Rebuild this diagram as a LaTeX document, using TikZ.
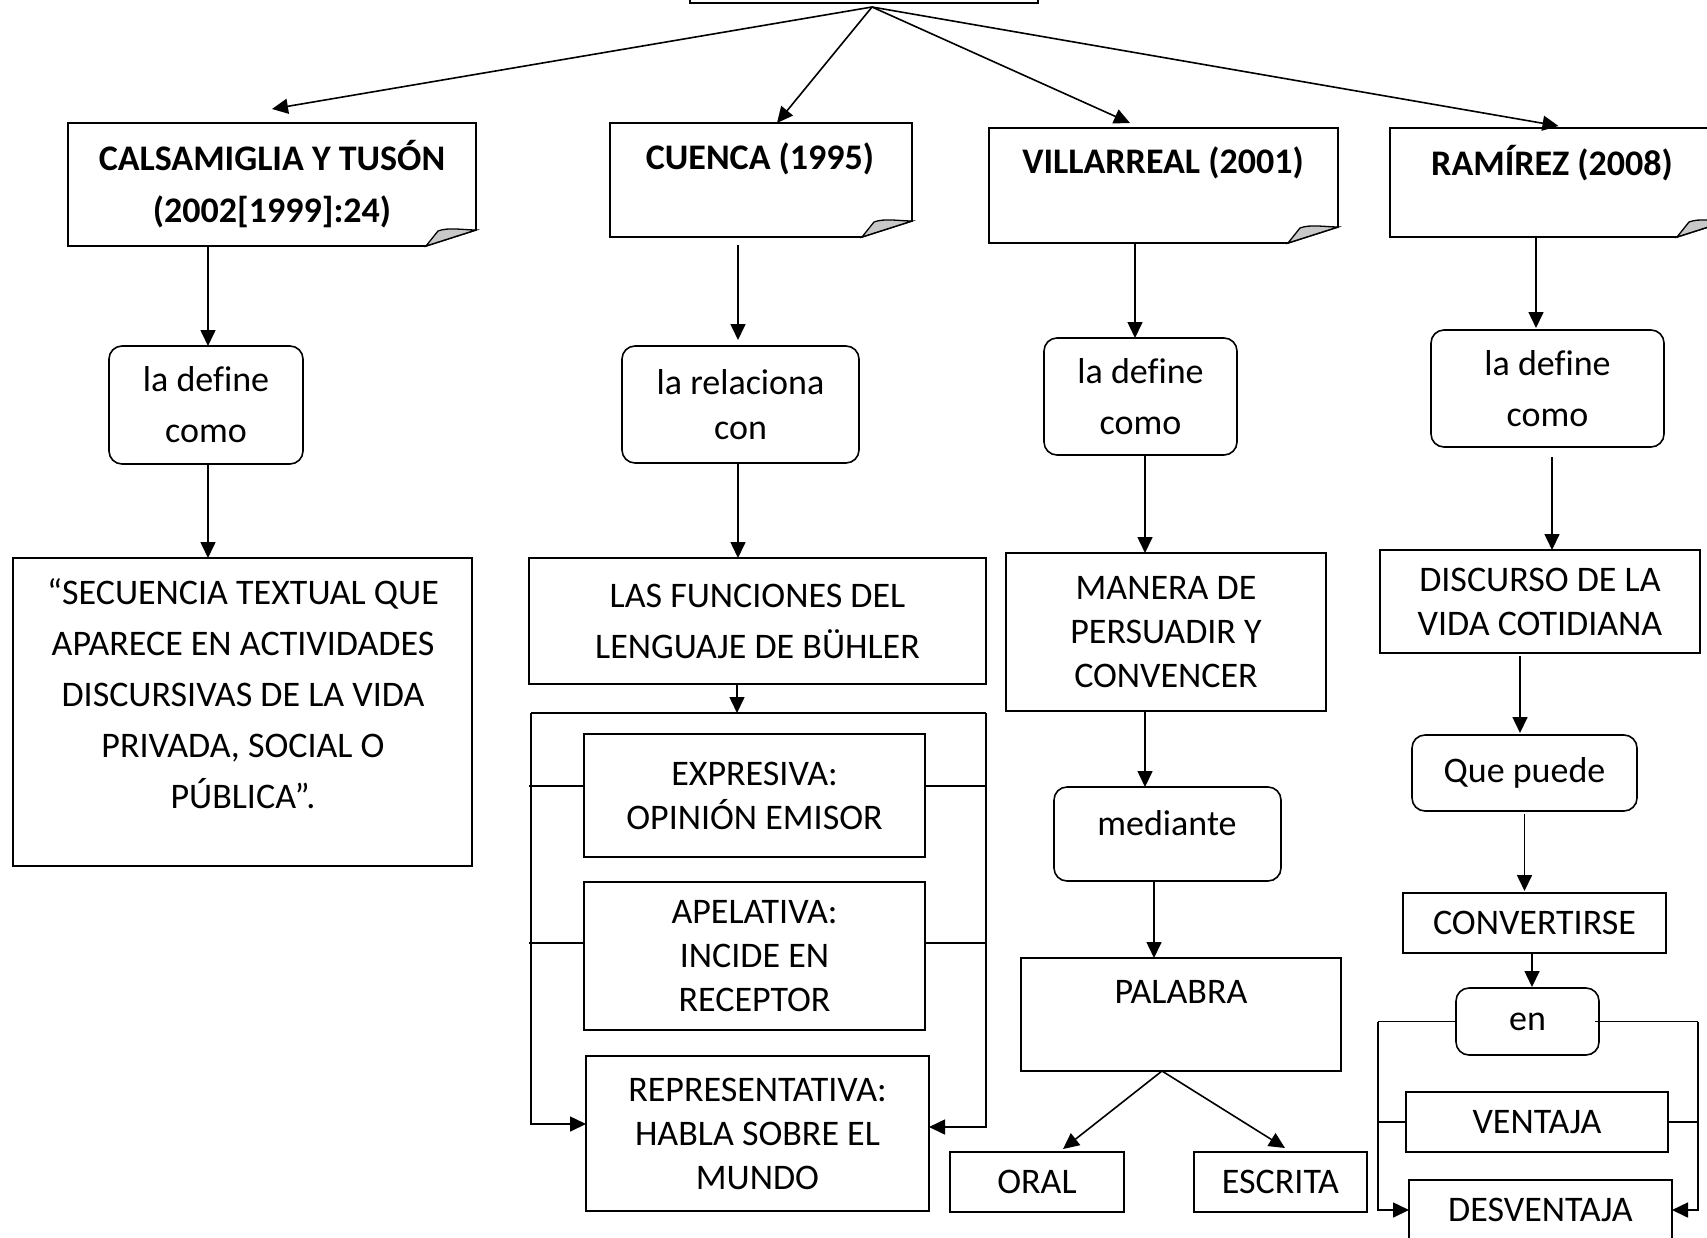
\documentclass[tikz,border=0pt]{standalone}
\usepackage{fontspec}
\setmainfont{Carlito}[Ligatures=CommonOff]
\usetikzlibrary{calc,arrows.meta}
\definecolor{foldgray}{RGB}{200,200,200}
\tikzset{
  base/.style={inner sep=0pt, outer sep=0pt, align=center, font=\fontsize{36}{44}\selectfont},
  wide/.style={font=\fontsize{36}{51}\selectfont},
  hdr/.style={font=\fontsize{36}{52}\selectfont\bfseries},
  box/.style={base, draw, line width=1.6pt},
  rbox/.style={box, rounded corners=13pt},
  link/.style={line width=1.6pt},
  arr/.style={line width=1.6pt, -{Triangle[length=16pt,width=15pt]}},
}
% sheet with a turned-up bottom right corner, drawn round a named node
\newcommand\notefold[1]{%
  \draw[link, line join=miter] (#1.north west) -- (#1.north east)
    -- ($(#1.south east)+(0,-16)$) -- ($(#1.south east)+(-50,0)$)
    -- (#1.south west) -- cycle;
  \draw[line width=1.3pt, fill=foldgray] ($(#1.south east)+(-50,0)$)
    -- ($(#1.south east)+(-38,-15)$)
    .. controls ($(#1.south east)+(-28,-19)$) and ($(#1.south east)+(-12,-16)$)
    .. ($(#1.south east)+(0,-16)$) -- cycle;
}
\begin{document}
\begin{tikzpicture}[x=1pt,y=-1pt]
\useasboundingbox (0,0) rectangle (1707,1237);
\clip (0,0) rectangle (1707,1237);

% ---- root box (top edge runs off the sheet)
\node[box, minimum width=348pt, minimum height=100pt] (root) at (864,-47) {};
\coordinate (hub) at (872,7);

% ---- authors
\node[base, hdr, minimum width=408pt, minimum height=123pt] (cals) at (272,184.5)
  {CALSAMIGLIA Y TUSÓN\\(2002[1999]:24)};
\notefold{cals}
\node[base, minimum width=302pt, minimum height=114pt] (cuenca) at (761,180) {};
\notefold{cuenca}
\node[base, hdr] (cuencaT) at (760,159) {CUENCA (1995)};
\node[base, minimum width=349pt, minimum height=115pt] (villa) at (1163.5,185.5) {};
\notefold{villa}
\node[base, hdr] (villaT) at (1163,163) {VILLARREAL (2001)};
\node[base, minimum width=337pt, minimum height=109pt] (ram) at (1558.5,182.5) {};
\notefold{ram}
\node[base, hdr] (ramT) at (1552,163) {RAMÍREZ (2008)};

\draw[arr] (hub) -- ([yshift=14pt]cals.north);
\draw[arr] (hub) -- ([xshift=16pt]cuenca.north);
\draw[arr] (hub) -- ([xshift=-33.5pt,yshift=5pt]villa.north);
\draw[arr] (hub) -- ([yshift=2pt]ram.north);

% ---- Calsamiglia y Tusón
\node[rbox, wide, minimum width=194pt, minimum height=118pt] (def1) at (206,405) {la define\\como};
\node[box, minimum width=459pt, minimum height=308pt] (sec) at (242.5,712) {};
\node[base, wide] (secT) at (243,693.5)
  {“SECUENCIA TEXTUAL QUE\\APARECE EN ACTIVIDADES\\DISCURSIVAS DE LA VIDA\\PRIVADA, SOCIAL O\\PÚBLICA”.};
\draw[arr] ([xshift=2pt]def1.north |- cals.south) -- ([xshift=2pt]def1.north);
\draw[arr] ([xshift=2pt]def1.south) -- ([xshift=2pt]def1.south |- sec.north);

% ---- Cuenca
\node[rbox, font=\fontsize{36}{45}\selectfont, minimum width=237pt, minimum height=117pt] (rel) at (740.5,404.5) {la relaciona\\con};
\node[box, wide, minimum width=457pt, minimum height=126pt] (fun) at (757.5,621) {LAS FUNCIONES DEL\\LENGUAJE DE BÜHLER};
\node[box, minimum width=341pt, minimum height=123pt] (exp) at (754.5,795.5) {EXPRESIVA:\\OPINIÓN EMISOR};
\node[box, minimum width=341pt, minimum height=148pt] (apel) at (754.5,956) {APELATIVA:\\INCIDE EN\\RECEPTOR};
\node[box, minimum width=343pt, minimum height=155pt] (rep) at (757.5,1133.5) {REPRESENTATIVA:\\HABLA SOBRE EL\\MUNDO};
\draw[arr, shorten <=8pt, shorten >=6pt] ([xshift=-2.5pt]rel.north |- cuenca.south) -- ([xshift=-2.5pt]rel.north);
\draw[arr] ([xshift=-2.5pt]rel.south) -- ([xshift=-2.5pt]rel.south |- fun.north);
\coordinate (bL) at (531,713);
\coordinate (bR) at (986,713);
\draw[link] (bL) -- (bR);
\draw[arr] ([xshift=-20.5pt]fun.south) -- ([xshift=-20.5pt]fun.south |- bL);
\draw[arr] (bL) |- ([yshift=9.5pt]rep.west);
\draw[arr] (bR) |- ([yshift=6.5pt]rep.east);
\draw[link] ([yshift=9.5pt]exp.west) -- ([xshift=-2pt,yshift=9.5pt]exp.west -| bL);
\draw[link] ([yshift=9.5pt]exp.east) -- ([yshift=9.5pt]exp.east -| bR);
\draw[link] ([yshift=13pt]apel.west) -- ([xshift=-2pt,yshift=13pt]apel.west -| bL);
\draw[link] ([yshift=13pt]apel.east) -- ([yshift=13pt]apel.east -| bR);

% ---- Villarreal
\node[rbox, wide, minimum width=193pt, minimum height=117pt] (def3) at (1140.5,396.5) {la define\\como};
\node[box, minimum width=320pt, minimum height=158pt] (man) at (1166,632) {MANERA DE\\PERSUADIR Y\\CONVENCER};
\node[rbox, minimum width=227pt, minimum height=94pt] (med) at (1167.5,834) {};
\node[base] (medT) at (1167,823) {mediante};
\node[box, minimum width=320pt, minimum height=113pt] (pal) at (1181,1014.5) {};
\node[base] (palT) at (1181,992) {PALABRA};
\node[box, minimum width=174pt, minimum height=60pt] (oral) at (1037,1182) {ORAL};
\node[box, minimum width=173pt, minimum height=60pt] (esc) at (1280.5,1182) {ESCRITA};
\draw[arr] ([xshift=-5.5pt]def3.north |- villa.south) -- ([xshift=-5.5pt]def3.north);
\draw[arr] ([xshift=4.5pt]def3.south) -- ([xshift=4.5pt]def3.south |- man.north);
\draw[arr] ([xshift=-21pt]man.south) -- ([xshift=-21pt]man.south |- med.north);
\draw[arr] ([xshift=-13.5pt]med.south) -- ([xshift=-13.5pt]med.south |- pal.north);
\draw[arr] ([xshift=-19pt]pal.south) -- ([xshift=26pt,yshift=3pt]oral.north);
\draw[arr] ([xshift=-19pt]pal.south) -- ([xshift=4.5pt,yshift=4pt]esc.north);

% ---- Ramírez
\node[rbox, wide, minimum width=233pt, minimum height=117pt] (def4) at (1547.5,388.5) {la define\\como};
\node[box, minimum width=320pt, minimum height=103pt] (disc) at (1540,601.5) {DISCURSO DE LA\\VIDA COTIDIANA};
\node[rbox, minimum width=225pt, minimum height=76pt] (que) at (1524.5,773) {Que puede};
\node[box, minimum width=263pt, minimum height=60pt] (conv) at (1534.5,923) {CONVERTIRSE};
\node[rbox, minimum width=143pt, minimum height=67pt] (en) at (1527.5,1021.5) {en};
\node[box, minimum width=262pt, minimum height=60pt] (vent) at (1537,1122) {VENTAJA};
\node[box, minimum width=263pt, minimum height=60pt] (desv) at (1540.5,1210) {DESVENTAJA};
\draw[arr, shorten >=2pt] ([xshift=-11.5pt]def4.north |- ram.south) -- ([xshift=-11.5pt]def4.north);
\draw[arr, shorten <=10pt] ([xshift=4.5pt]def4.south) -- ([xshift=4.5pt]def4.south |- disc.north);
\draw[arr, shorten <=3pt, shorten >=2pt] ([xshift=-20pt]disc.south) -- ([xshift=-20pt]disc.south |- que.north);
\draw[arr, shorten <=3pt, shorten >=2pt] (que.south) -- (que.south |- conv.north);
\draw[arr, shorten >=1pt] ([xshift=-2.5pt]conv.south) -- ([xshift=-2.5pt]conv.south |- en.north);
\coordinate (cL) at (1378,1021.5);
\coordinate (cR) at (1698,1021.5);
\draw[link] (en.west) -- (cL);
\draw[link, shorten <=-4pt] (en.east) -- (cR);
\draw[arr] (cL) |- (desv.west);
\draw[arr] (cR) |- (desv.east);
\draw[link] (vent.west) -- (vent.west -| cL);
\draw[link] (vent.east) -- (vent.east -| cR);
\end{tikzpicture}
\end{document}
